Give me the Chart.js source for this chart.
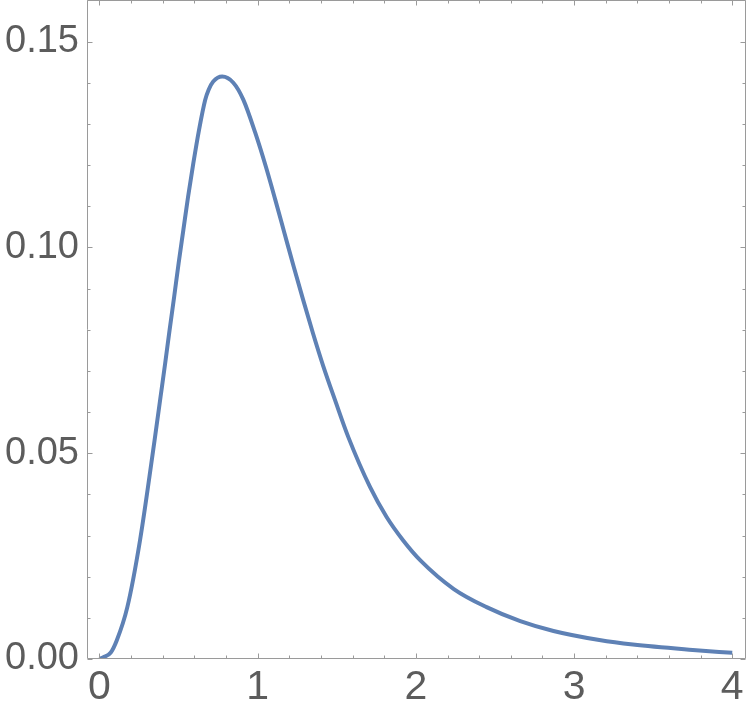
<!DOCTYPE html>
<html>
<head>
<meta charset="utf-8">
<script src="https://cdn.jsdelivr.net/npm/chart.js@4.4.0/dist/chart.umd.min.js"></script>
<style>
  html, body { margin: 0; padding: 0; background: #fff; }
  canvas { display: block; }
</style>
</head>
<body>
<canvas id="chart" width="747" height="714"></canvas>
<script>
// values
var xs = [0, 0.024, 0.07, 0.109, 0.176, 0.256, 0.348, 0.386, 0.415, 0.443, 0.472, 0.500, 0.530, 0.560,
  0.593, 0.629, 0.668, 0.690, 0.719, 0.776, 0.846, 0.909, 0.985, 1.051, 1.111, 1.169, 1.227, 1.287, 1.349,
  1.415, 1.488, 1.573, 1.71, 1.815, 1.92, 2.03, 2.24, 2.447, 2.66, 2.87, 3.16, 3.372, 3.75, 4.0];
var ys = [0, 0.0004, 0.0015, 0.0045, 0.0126, 0.0288, 0.0531, 0.0637, 0.0718, 0.0799, 0.0880, 0.0961, 0.1042, 0.1123,
  0.1204, 0.1285, 0.1358, 0.1383, 0.1403, 0.1415, 0.1400, 0.1359, 0.1278, 0.1197, 0.1116, 0.1035, 0.0954, 0.0873, 0.0792,
  0.0711, 0.0630, 0.0539, 0.0418, 0.0345, 0.0288, 0.0239, 0.0170, 0.0126, 0.0092, 0.0068, 0.0046, 0.0035, 0.0022, 0.0015];

var xTicks = [0, 1, 2, 3, 4];
var yTicks = [0, 0.05, 0.10, 0.15];

var frameColor = '#9a9a9a';
var labelColor = '#5c5c5c';

// Mathematica-like frame with inward ticks on all four sides
var frameTicks = {
  id: 'frameTicks',
  afterDraw: function(chart) {
    var ctx = chart.ctx, a = chart.chartArea;
    var sx = chart.scales.x, sy = chart.scales.y;
    var l = a.left + 0.5, r = a.right - 0.5, t = a.top + 0.5, b = a.bottom - 0.5;
    ctx.save();
    ctx.strokeStyle = frameColor;
    ctx.lineWidth = 1;
    ctx.beginPath();
    ctx.rect(l, t, r - l, b - t);
    ctx.stroke();
    ctx.beginPath();
    for (var i = 0; i <= 20; i++) {
      var v = i * 0.2;
      var len = (i % 5 == 0) ? 5 : 3;
      var px = Math.round(sx.getPixelForValue(v)) + 0.5;
      ctx.moveTo(px, b); ctx.lineTo(px, b - len);
      ctx.moveTo(px, t); ctx.lineTo(px, t + len);
    }
    for (var j = 0; j <= 16; j++) {
      var w = j * 0.01;
      var len2 = (j % 5 == 0) ? 5 : 3;
      var py = Math.round(sy.getPixelForValue(w)) + 0.5;
      ctx.moveTo(l, py); ctx.lineTo(l + len2, py);
      ctx.moveTo(r, py); ctx.lineTo(r - len2, py);
    }
    ctx.stroke();
    ctx.restore();
  }
};

function noPadding(scale) {
  scale.paddingTop = 0;
  scale.paddingBottom = 0;
  scale.paddingLeft = 0;
  scale.paddingRight = 0;
}

var points = xs.map(function(x, i) { return { x: x, y: ys[i] }; });

new Chart(document.getElementById('chart'), {
  type: 'line',
  data: {
    datasets: [{
      data: points,
      borderColor: '#5e81b5',
      borderWidth: 4,
      pointRadius: 0,
      fill: false,
      cubicInterpolationMode: 'monotone'
    }]
  },
  options: {
    responsive: false,
    devicePixelRatio: 1,
    animation: false,
    layout: { padding: { top: 0, right: 1, left: 0, bottom: 0 } },
    plugins: { legend: { display: false }, tooltip: { enabled: false } },
    scales: {
      x: {
        type: 'linear',
        min: -0.079,
        max: 4.087,
        grid: { display: false, drawTicks: false },
        border: { display: false },
        afterFit: function(scale) { scale.height = 55; noPadding(scale); },
        afterBuildTicks: function(scale) {
          scale.ticks = xTicks.map(function(v) { return { value: v }; });
        },
        ticks: {
          padding: 4,
          color: labelColor,
          font: { family: '"Liberation Sans", Arial, sans-serif', size: 41 },
          maxRotation: 0,
          callback: function(v) { return String(v); }
        }
      },
      y: {
        type: 'linear',
        min: 0,
        max: 0.1601,
        grid: { display: false, drawTicks: false },
        border: { display: false },
        afterFit: function(scale) { scale.width = 87; noPadding(scale); },
        afterBuildTicks: function(scale) {
          scale.ticks = yTicks.map(function(v) { return { value: v }; });
        },
        ticks: {
          padding: 8,
          color: labelColor,
          font: { family: '"Liberation Sans", Arial, sans-serif', size: 38 },
          callback: function(v) { return v.toFixed(2); }
        }
      }
    }
  },
  plugins: [frameTicks]
});
</script>
</body>
</html>
